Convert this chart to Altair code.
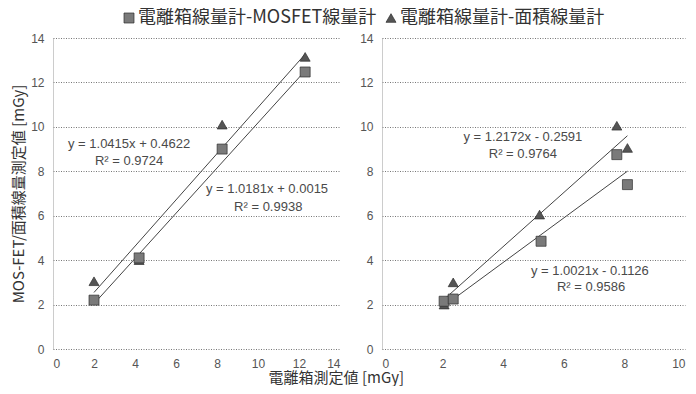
import altair as alt
import pandas as pd

series = ["電離箱線量計-MOSFET線量計", "電離箱線量計-面積線量計"]

# Left panel data
left_sq_x = [2.0, 4.2, 8.25, 12.3]
left_sq_y = [2.2, 4.1, 9.0, 12.47]
left_tr_x = [2.0, 4.2, 8.25, 12.3]
left_tr_y = [3.05, 4.0, 10.1, 13.15]
left_coef = {series[0]: (1.0181, 0.0015), series[1]: (1.0415, 0.4622)}
left_labels = ["y = 1.0415x + 0.4622", "R² = 0.9724", "y = 1.0181x + 0.0015", "R² = 0.9938"]
left_label_x = [3.71, 3.71, 10.44, 10.5]
left_label_y = [9.24, 8.48, 7.22, 6.37]

# Right panel data
right_sq_x = [2.05, 2.35, 5.25, 7.75, 8.1]
right_sq_y = [2.15, 2.25, 4.85, 8.75, 7.4]
right_tr_x = [2.05, 2.35, 5.2, 7.75, 8.1]
right_tr_y = [2.0, 3.0, 6.05, 10.05, 9.05]
right_coef = {series[0]: (1.0021, -0.1126), series[1]: (1.2172, -0.2591)}
right_labels = ["y = 1.2172x - 0.2591", "R² = 0.9764", "y = 1.0021x - 0.1126", "R² = 0.9586"]
right_label_x = [4.65, 4.65, 6.86, 6.9]
right_label_y = [9.56, 8.79, 3.5, 2.78]

y_ticks = [0, 2, 4, 6, 8, 10, 12, 14]

FONT_NUM = "Liberation Sans"
FONT_CJK = "Noto Sans CJK JP"

shape_scale = alt.Scale(domain=series, range=["square", "triangle-up"])
color_scale = alt.Scale(domain=series, range=["#7a7a7a", "#555555"])


def make_points(sx, sy, tx, ty):
    rows = [{"x": a, "y": b, "s": series[1]} for a, b in zip(tx, ty)]
    rows += [{"x": a, "y": b, "s": series[0]} for a, b in zip(sx, sy)]
    return pd.DataFrame(rows)


def make_lines(sx, tx, coef):
    rows = []
    for s, xs in ((series[0], sx), (series[1], tx)):
        m, c = coef[s]
        for xv in (min(xs), max(xs)):
            rows.append({"x": xv, "y": m * xv + c, "s": s})
    return pd.DataFrame(rows)


def panel(pts, lines, txt, xmax, w, is_left):
    xs = alt.Scale(domain=[0, xmax], nice=False)
    ys = alt.Scale(domain=[0, 14], nice=False)
    xax = alt.Axis(values=list(range(0, xmax + 1, 2)), title=None, grid=False,
                   labelFont=FONT_NUM, labelFontSize=12, labelColor="#555",
                   domain=False, ticks=False, labelPadding=9)
    yax = alt.Axis(values=y_ticks, title="MOS-FET/面積線量測定値 [mGy]" if is_left else None,
                   titleFont=FONT_CJK, titleFontSize=15, titleFontWeight="normal",
                   titleColor="#333", titlePadding=4,
                   labelFont=FONT_NUM, labelFontSize=12, labelColor="#555",
                   grid=True, gridColor="#777", gridDash=[1, 1.5], gridWidth=1,
                   domain=True, domainColor="#999", domainDash=[1, 1],
                   ticks=False, labelPadding=9)
    line = alt.Chart(lines).mark_line(color="#444", strokeWidth=1).encode(
        x=alt.X("x:Q", scale=xs, axis=xax),
        y=alt.Y("y:Q", scale=ys, axis=yax),
        detail="s:N",
    )
    pts_l = alt.Chart(pts).mark_point(filled=True, size=100, opacity=1,
                                      stroke="#2e2e2e", strokeWidth=0.7).encode(
        x=alt.X("x:Q", scale=xs),
        y=alt.Y("y:Q", scale=ys),
        shape=alt.Shape("s:N", scale=shape_scale, legend=None),
        color=alt.Color("s:N", scale=color_scale, legend=None),
    )
    t = alt.Chart(txt).mark_text(font=FONT_NUM, fontSize=13, color="#4a4a4a",
                                  align="center", baseline="middle").encode(
        x=alt.X("x:Q", scale=xs),
        y=alt.Y("y:Q", scale=ys),
        text="t:N",
    )
    return alt.layer(line, pts_l, t).properties(width=w, height=311)


left = panel(
    make_points(left_sq_x, left_sq_y, left_tr_x, left_tr_y),
    make_lines(left_sq_x, left_tr_x, left_coef),
    pd.DataFrame({"x": left_label_x, "y": left_label_y, "t": left_labels}),
    14, 287, True,
)
right = panel(
    make_points(right_sq_x, right_sq_y, right_tr_x, right_tr_y),
    make_lines(right_sq_x, right_tr_x, right_coef),
    pd.DataFrame({"x": right_label_x, "y": right_label_y, "t": right_labels}),
    10, 303, False,
)

# Legend row: one entry per series, placed through a linear index scale
leg_df = pd.DataFrame({"s": series, "i": list(range(len(series)))})
leg_x = alt.X("i:Q", scale=alt.Scale(domain=[0, 1], range=[76, 338]), axis=None)
leg_pts = alt.Chart(leg_df).mark_point(filled=True, size=100, opacity=1,
                                       stroke="#2e2e2e", strokeWidth=0.7).encode(
    x=leg_x, y=alt.value(10),
    shape=alt.Shape("s:N", scale=shape_scale, legend=None),
    color=alt.Color("s:N", scale=color_scale, legend=None),
)
leg_txt = alt.Chart(leg_df).mark_text(font=FONT_CJK, fontSize=18, color="#333",
                                      align="left", baseline="middle", dx=9).encode(
    x=leg_x, y=alt.value(10), text="s:N",
)
legend_row = alt.layer(leg_pts, leg_txt).properties(width=600, height=19)

plots = alt.hconcat(left, right, spacing=19)

chart = alt.vconcat(legend_row, plots, spacing=5).properties(
    title=alt.TitleParams("電離箱測定値 [mGy]", orient="bottom", anchor="middle",
                          font=FONT_CJK, fontSize=15, fontWeight="normal",
                          color="#333", offset=2, dx=-12),
    padding={"left": 3, "top": 0, "right": 2, "bottom": 0},
    background="white",
).configure_view(stroke=None, strokeWidth=0, strokeOpacity=0)

chart.save("out.html", embed_options={"renderer": "svg", "actions": False})
